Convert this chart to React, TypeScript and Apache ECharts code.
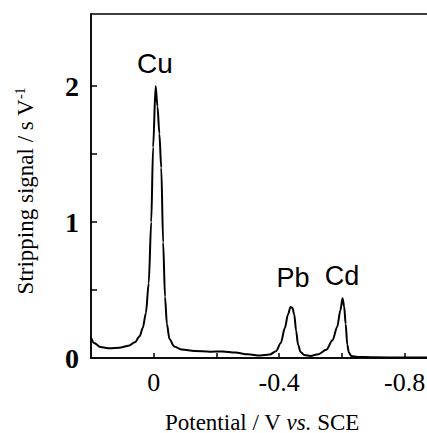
import React, { useEffect, useRef } from "react";
import * as echarts from "echarts";

const potential = [0.2, 0.19, 0.17, 0.14, 0.11, 0.08, 0.06, 0.045, 0.035, 0.025, 0.016, 0.008, 0.002, -0.006, -0.012, -0.018, -0.024, -0.03, -0.036, -0.042, -0.05, -0.065, -0.09, -0.13, -0.18, -0.22, -0.26, -0.3, -0.34, -0.37, -0.39, -0.405, -0.418, -0.428, -0.436, -0.442, -0.448, -0.454, -0.46, -0.468, -0.48, -0.5, -0.525, -0.55, -0.57, -0.585, -0.595, -0.602, -0.607, -0.612, -0.617, -0.622, -0.63, -0.65, -0.7, -0.8, -0.884];
const signal = [0.15, 0.11, 0.08, 0.072, 0.075, 0.09, 0.115, 0.16, 0.22, 0.33, 0.55, 1.0, 1.55, 2.0, 1.85, 1.65, 1.4, 0.85, 0.45, 0.25, 0.14, 0.085, 0.062, 0.052, 0.046, 0.048, 0.04, 0.027, 0.018, 0.025, 0.05, 0.11, 0.22, 0.32, 0.375, 0.37, 0.32, 0.2, 0.1, 0.045, 0.022, 0.015, 0.028, 0.06, 0.13, 0.23, 0.35, 0.44, 0.38, 0.25, 0.1, 0.04, 0.015, 0.008, 0.005, 0.003, 0.003];

const xTickValues = [0, -0.2, -0.4, -0.6, -0.8];
const xLabelValues = [0, -0.4, -0.8];
const yTickValues = [0.5, 1, 1.5, 2];
const yLabelValues = [0, 1, 2];
const peakLabels = ["Cu", "Pb", "Cd"];

export default function App() {
  const ref = useRef<HTMLDivElement>(null);
  useEffect(() => {
    document.body.style.margin = "0";
    const chart = echarts.init(ref.current!, null, { renderer: "svg" });
    const serif = "Liberation Serif";
    const sans = "Liberation Sans";
    chart.setOption({
      animation: false,
      grid: {
        left: 91,
        top: 14,
        width: 340,
        bottom: 75,
        outerBoundsMode: "none",
        containLabel: false,
        show: true,
        borderColor: "#000",
        borderWidth: 1.5,
        backgroundColor: "transparent",
      },
      xAxis: {
        type: "value",
        inverse: true,
        min: -0.884,
        max: 0.2,
        axisLine: { show: true, onZero: false, lineStyle: { color: "#000", width: 1.5 } },
        axisTick: { show: true, inside: true, length: 5, customValues: xTickValues, lineStyle: { color: "#000", width: 1.5 } },
        axisLabel: {
          customValues: xLabelValues,
          formatter: (v: number) => (v === 0 ? "0" : v.toFixed(1)),
          color: "#000",
          fontFamily: serif,
          fontSize: 26,
          margin: 11,
        },
        splitLine: { show: false },
      },
      yAxis: {
        type: "value",
        min: 0,
        max: 2.53,
        axisLine: { show: true, onZero: false, lineStyle: { color: "#000", width: 1.5 } },
        axisTick: { show: true, inside: true, length: 6, customValues: yTickValues, lineStyle: { color: "#000", width: 1.5 } },
        axisLabel: {
          customValues: yLabelValues,
          formatter: (v: number) => String(v),
          color: "#000",
          fontFamily: serif,
          fontSize: 28,
          fontWeight: "bold",
          margin: 12,
        },
        splitLine: { show: false },
      },
      series: [
        {
          type: "line",
          data: potential.map((p, i) => [p, signal[i]]),
          showSymbol: false,
          smooth: 0.3,
          smoothMonotone: "x",
          lineStyle: { color: "#000", width: 2 },
        },
      ],
      graphic: [
        {
          type: "text",
          x: 25,
          y: 191,
          rotation: Math.PI / 2,
          style: {
            text: "Stripping signal / s V{sup|-1}",
            fontFamily: serif,
            fontSize: 23,
            fill: "#000",
            align: "center",
            verticalAlign: "middle",
            rich: {
              sup: { fontFamily: serif, fontSize: 14, fill: "#000", verticalAlign: "top", padding: [0, 0, 9, 0] },
            },
          },
        },
        {
          type: "text",
          x: 262,
          y: 422,
          style: {
            text: "Potential / V {i|vs.} SCE",
            fontFamily: serif,
            fontSize: 23,
            fill: "#000",
            align: "center",
            verticalAlign: "middle",
            rich: { i: { fontFamily: serif, fontSize: 23, fill: "#000", fontStyle: "italic" } },
          },
        },
        {
          type: "text",
          x: 155,
          y: 63,
          style: { text: peakLabels[0], fontFamily: sans, fontSize: 28, fill: "#000", align: "center", verticalAlign: "middle" },
        },
        {
          type: "text",
          x: 293,
          y: 278,
          style: { text: peakLabels[1], fontFamily: sans, fontSize: 27, fill: "#000", align: "center", verticalAlign: "middle" },
        },
        {
          type: "text",
          x: 342,
          y: 276,
          style: { text: peakLabels[2], fontFamily: sans, fontSize: 27, fill: "#000", align: "center", verticalAlign: "middle" },
        },
      ],
    });
    return () => chart.dispose();
  }, []);
  return <div ref={ref} style={{ width: 427, height: 433 }} />;
}
